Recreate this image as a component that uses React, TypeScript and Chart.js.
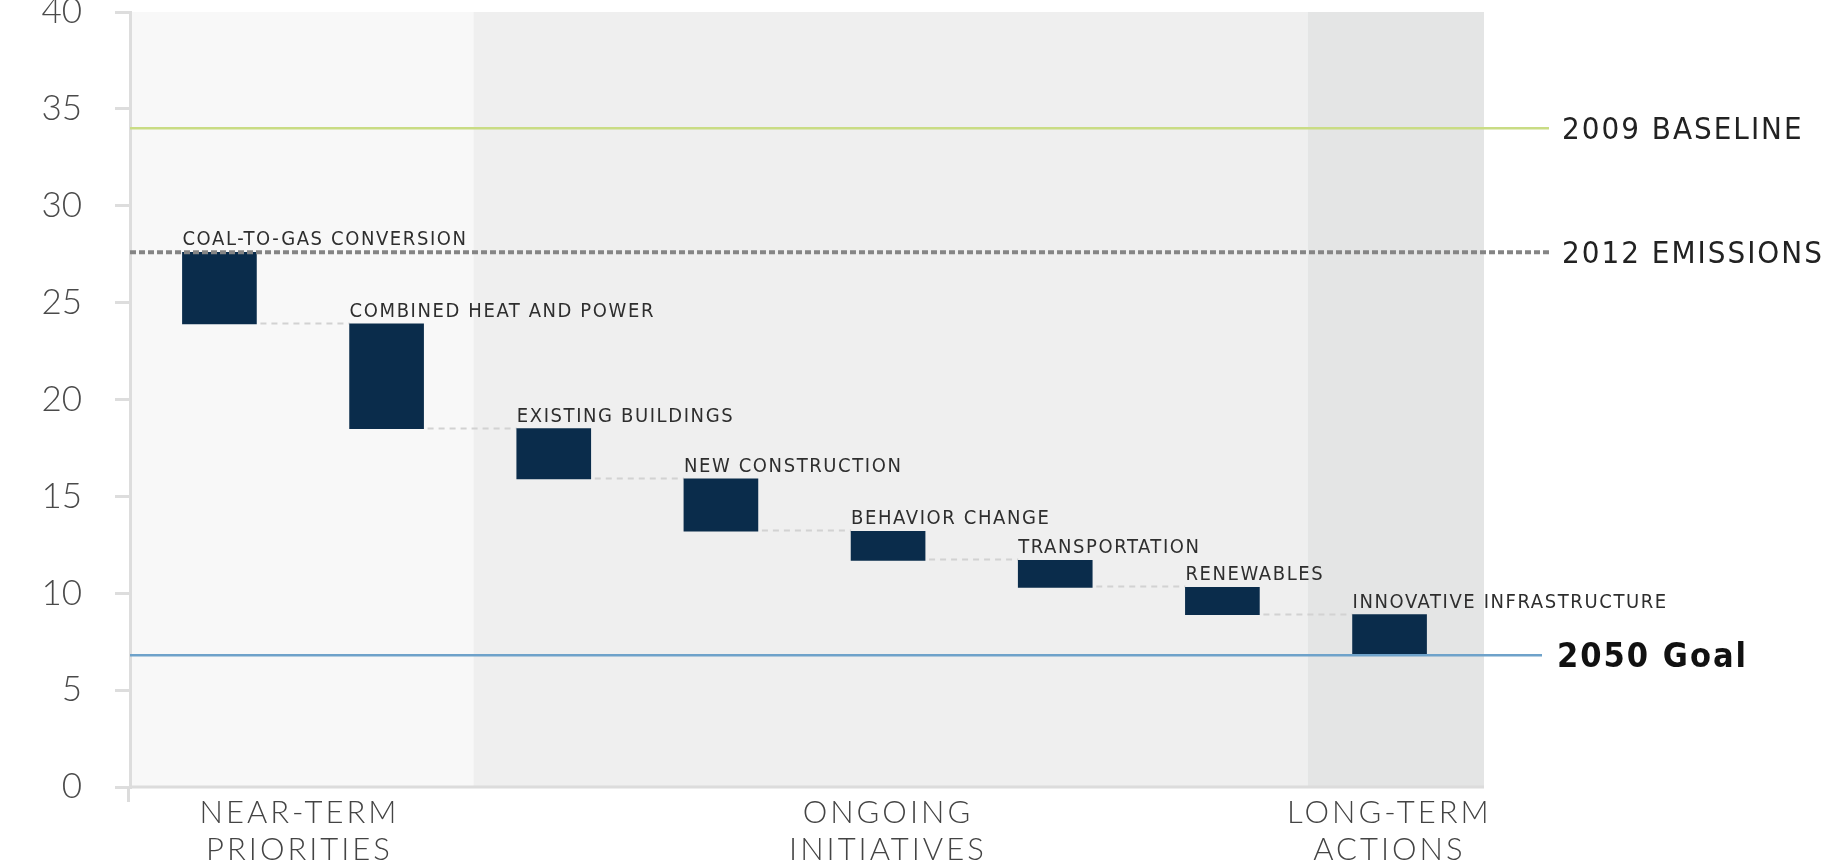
import React, { useEffect, useRef } from "react";
import { Chart, registerables } from "chart.js";

Chart.register(...registerables);

// ---- data ----
const categories = [
  "COAL-TO-GAS CONVERSION",
  "COMBINED HEAT AND POWER",
  "EXISTING BUILDINGS",
  "NEW CONSTRUCTION",
  "BEHAVIOR CHANGE",
  "TRANSPORTATION",
  "RENEWABLES",
  "INNOVATIVE INFRASTRUCTURE",
];
const barTops = [27.6, 23.9, 18.5, 15.9, 13.2, 11.7, 10.3, 8.9];
const barBottoms = [23.9, 18.5, 15.9, 13.2, 11.7, 10.3, 8.9, 6.8];

const refLabels = ["2009 BASELINE", "2012 EMISSIONS", "2050 Goal"];
const refValues = [34, 27.6, 6.8];

const groupLabels = [
  ["NEAR-TERM", "PRIORITIES"],
  ["ONGOING", "INITIATIVES"],
  ["LONG-TERM", "ACTIONS"],
];
const groupCenters = [0.47, 3.99, 6.99];
const groupEdges = [1.52, 6.51];

const yMin = 0;
const yMax = 40;
const yStep = 5;

const COND = '"DejaVu Sans Condensed", "DejaVu Sans", sans-serif';

const decor = {
  id: "decor",
  beforeDraw(chart: any) {
    const { ctx, chartArea: a, scales } = chart;
    const x = scales.x;
    const edges = [a.left, ...groupEdges.map((v) => x.getPixelForValue(v)), a.right];
    const fills = ["#f8f8f8", "#efefef", "#e4e5e5"];
    ctx.save();
    for (let i = 0; i < edges.length - 1; i++) {
      ctx.fillStyle = fills[i];
      ctx.fillRect(edges[i], a.top, edges[i + 1] - edges[i], a.bottom - a.top);
    }
    ctx.restore();
  },
  beforeDatasetsDraw(chart: any) {
    const { ctx, chartArea: a, scales } = chart;
    const y = scales.y;
    ctx.save();
    // x axis line
    ctx.strokeStyle = "#dcdcdc";
    ctx.lineWidth = 3;
    ctx.beginPath();
    ctx.moveTo(a.left - 1, a.bottom);
    ctx.lineTo(a.right, a.bottom);
    ctx.moveTo(a.left - 1.5, a.bottom);
    ctx.lineTo(a.left - 1.5, a.bottom + 15);
    ctx.stroke();
    // connectors
    const meta = chart.getDatasetMeta(0);
    ctx.strokeStyle = "#d2d2d2";
    ctx.lineWidth = 2;
    ctx.setLineDash([6, 5]);
    for (let i = 0; i < meta.data.length - 1; i++) {
      const e1 = meta.data[i].getProps(["x", "width"], true);
      const e2 = meta.data[i + 1].getProps(["x", "width"], true);
      const yy = Math.round(y.getPixelForValue(barBottoms[i])) - 0.5;
      ctx.beginPath();
      ctx.moveTo(e1.x + e1.width / 2 + 4, yy);
      ctx.lineTo(e2.x - e2.width / 2, yy);
      ctx.stroke();
    }
    ctx.restore();
  },
  afterDatasetsDraw(chart: any) {
    const { ctx, chartArea: a, scales } = chart;
    const x = scales.x;
    const y = scales.y;
    ctx.save();

    // reference lines
    const ends = [65, 65, 58];
    const labelOff = [78, 78, 73];
    refValues.forEach((v, i) => {
      const py = y.getPixelForValue(v);
      ctx.beginPath();
      if (i === 0) {
        ctx.strokeStyle = "#c9dc84";
        ctx.lineWidth = 2.5;
        ctx.setLineDash([]);
      } else if (i === 1) {
        ctx.strokeStyle = "#858585";
        ctx.lineWidth = 4;
        ctx.setLineDash([6, 3]);
      } else {
        ctx.strokeStyle = "#6ea2ca";
        ctx.lineWidth = 2.5;
        ctx.setLineDash([]);
      }
      ctx.moveTo(a.left, py);
      ctx.lineTo(a.right + ends[i], py);
      ctx.stroke();
      ctx.setLineDash([]);
      ctx.textBaseline = "middle";
      ctx.textAlign = "left";
      if (i === 2) {
        ctx.font = `bold 34px ${COND}`;
        ctx.fillStyle = "#111111";
        (ctx as any).letterSpacing = "2px";
      } else {
        ctx.font = `31px ${COND}`;
        ctx.fillStyle = "#222222";
        (ctx as any).letterSpacing = "2px";
      }
      ctx.fillText(refLabels[i], a.right + labelOff[i], py + 3);
    });

    // bar labels
    const meta = chart.getDatasetMeta(0);
    ctx.font = `20px ${COND}`;
    ctx.fillStyle = "#2e2e2e";
    (ctx as any).letterSpacing = "1.6px";
    ctx.textBaseline = "alphabetic";
    ctx.textAlign = "left";
    categories.forEach((c, i) => {
      const e = meta.data[i].getProps(["x", "y", "base", "width"], true);
      const top = Math.min(e.y, e.base);
      ctx.fillText(c, e.x - e.width / 2, top - 7);
    });

    // group labels
    ctx.font = `300 31px Lato, sans-serif`;
    ctx.fillStyle = "#444444";
    (ctx as any).letterSpacing = "3px";
    ctx.textAlign = "center";
    ctx.textBaseline = "middle";
    groupLabels.forEach((lines, i) => {
      const cx = x.getPixelForValue(groupCenters[i]);
      lines.forEach((t, j) => {
        ctx.fillText(t, cx + 1.5, a.bottom + 26 + j * 37);
      });
    });
    (ctx as any).letterSpacing = "0px";
    ctx.restore();
  },
};

export default function App() {
  const ref = useRef<HTMLCanvasElement>(null);
  useEffect(() => {
    if (!ref.current) return;
    const chart = new Chart(ref.current, {
      type: "bar",
      data: {
        datasets: [
          {
            data: categories.map((_, i) => ({ x: i, y: [barBottoms[i], barTops[i]] })) as any,
            backgroundColor: "#0a2c4b",
            borderWidth: 0,
            barThickness: 74,
          },
        ],
      },
      options: {
        animation: false,
        responsive: true,
        maintainAspectRatio: false,
        layout: { padding: { left: 0, right: 363, top: 0, bottom: 80 } },
        plugins: { legend: { display: false }, tooltip: { enabled: false } },
        scales: {
          x: { type: "linear", min: -0.535, max: 7.565, offset: false, display: false },
          y: {
            min: yMin,
            max: yMax,
            ticks: {
              stepSize: yStep,
              padding: 33,
              color: "#4a4a4a",
              font: { family: "Lato", weight: "300" as any, size: 35 },
            },
            grid: {
              drawOnChartArea: false,
              drawTicks: true,
              tickLength: 15,
              color: "#dddddd",
              lineWidth: 3,
            },
            border: { display: true, color: "#dddddd", width: 3 },
            afterFit: (scale: any) => {
              scale.width = 130;
            },
          },
        },
      },
      plugins: [decor],
    });
    return () => chart.destroy();
  }, []);
  return (
    <div style={{ position: "fixed", left: 0, top: -42, width: 1847, height: 909 }}>
      <canvas ref={ref} />
    </div>
  );
}
